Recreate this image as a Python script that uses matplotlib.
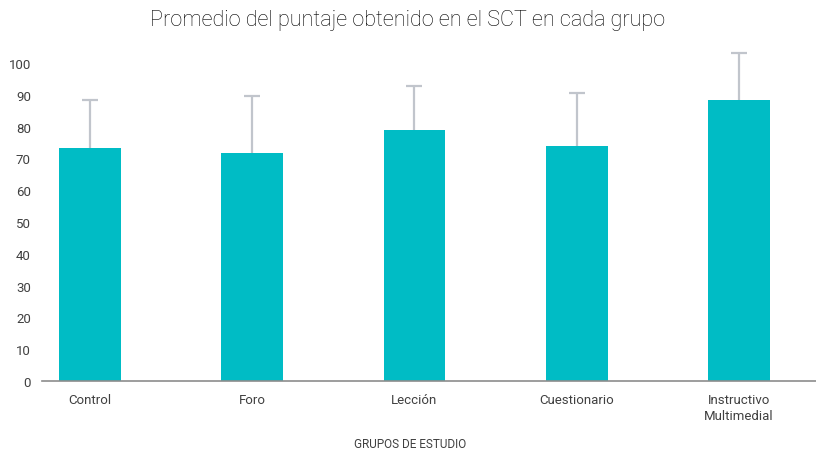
import matplotlib.pyplot as plt
import numpy as np
from matplotlib import rcParams

rcParams['font.family'] = ['Roboto', 'DejaVu Sans']

# datos del gráfico
grupos = ['Control', 'Foro', 'Lección', 'Cuestionario', 'Instructivo\nMultimedial']
promedios = [73.3, 71.7, 78.9, 73.9, 88.4]
desviacion = [15.2, 17.8, 13.8, 16.7, 14.7]
yticks = [0, 10, 20, 30, 40, 50, 60, 70, 80, 90, 100]

fig = plt.figure(figsize=(8.16, 4.52), dpi=100)
ax = fig.add_axes([0.0515, 0.155, 0.9485, 0.7035])

x = np.arange(len(grupos))
ax.bar(x, promedios, width=0.38, color='#00BCC5', zorder=2)
err = ax.errorbar(x, promedios, yerr=[np.zeros(len(desviacion)), desviacion],
                  fmt='none', ecolor='#C1C5CC', elinewidth=1.6, capsize=6,
                  capthick=1.6, zorder=1)
caps = err.lines[1]
caps[0].set_visible(False)  # solo se muestra el error superior
for artist in list(caps) + list(err.lines[2]):
    artist.set_clip_on(False)

ax.set_xlim(-0.296, 4.475)
ax.set_ylim(0, 100)
ax.set_yticks(yticks)
ax.set_xticks(x)
ax.set_xticklabels(grupos, fontsize=9.5, color='#404040', linespacing=1.3)
ax.tick_params(axis='both', length=0, colors='#404040', labelsize=9.5)
ax.tick_params(axis='x', pad=9)
ax.tick_params(axis='y', pad=8)

for s in ['top', 'right', 'left']:
    ax.spines[s].set_visible(False)
ax.spines['bottom'].set_color('#8C8C8C')
ax.spines['bottom'].set_linewidth(1.2)

ax.set_xlabel('GRUPOS DE ESTUDIO', fontsize=8.5, color='#404040', labelpad=9)
ax.xaxis.set_label_coords(0.475, -0.175)
fig.text(0.5, 0.955, 'Promedio del puntaje obtenido en el SCT en cada grupo',
         ha='center', va='center', fontsize=15.6, color='#000000', fontweight='light')

fig.savefig('out.png', dpi=100)
